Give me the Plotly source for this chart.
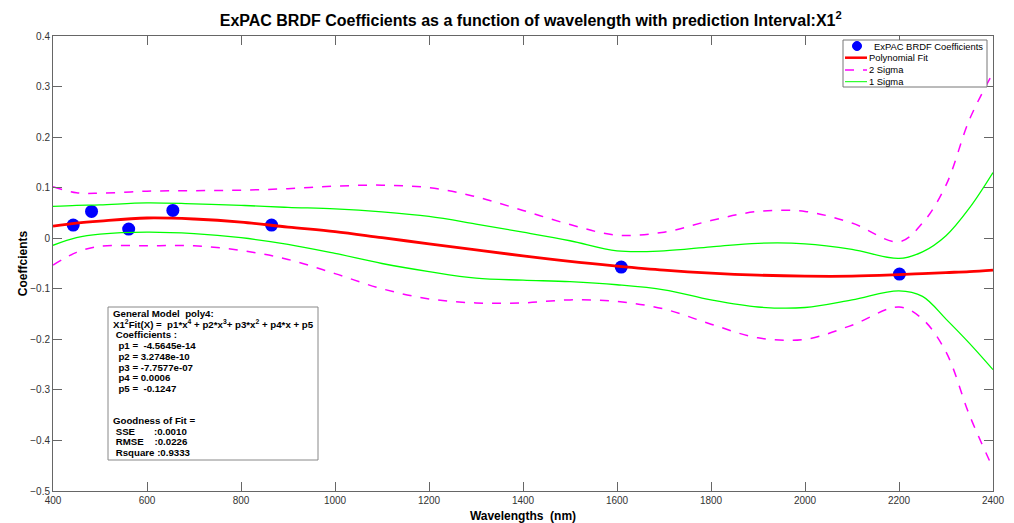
import plotly.graph_objects as go

# Measured data points (wavelength nm, coefficient)
pt_wl = [443, 482, 561, 655, 865, 1609, 2201]
pt_val = [0.026, 0.053, 0.018, 0.055, 0.026, -0.057, -0.071]

# Curves
wl = [400, 450, 500, 600, 700, 800, 900, 1000, 1100, 1200, 1300, 1400, 1500,
      1600, 1700, 1800, 1900, 2000, 2100, 2200, 2250, 2300, 2350, 2400]
fit = [0.024, 0.030, 0.034, 0.040, 0.038, 0.032, 0.022, 0.013, 0.001, -0.011, -0.023,
       -0.035, -0.046, -0.055, -0.063, -0.069, -0.073, -0.075, -0.075, -0.072,
       -0.070, -0.068, -0.066, -0.063]
sig1_up = [0.063, 0.065, 0.066, 0.070, 0.068, 0.065, 0.061, 0.058, 0.052, 0.043, 0.028,
           0.012, -0.005, -0.025, -0.025, -0.017, -0.010, -0.011, -0.022, -0.040,
           -0.027, 0.005, 0.060, 0.130]
sig1_lo = [-0.014, 0.001, 0.008, 0.012, 0.009, 0.001, -0.012, -0.030, -0.050, -0.066,
           -0.079, -0.083, -0.086, -0.092, -0.102, -0.122, -0.136, -0.137, -0.122,
           -0.104, -0.115, -0.160, -0.208, -0.260]
sig2_up = [0.102, 0.090, 0.089, 0.093, 0.094, 0.095, 0.098, 0.103, 0.105, 0.100, 0.082,
           0.055, 0.027, 0.006, 0.012, 0.035, 0.053, 0.053, 0.030, -0.007, 0.030,
           0.105, 0.235, 0.327]
sig2_lo = [-0.053, -0.028, -0.016, -0.015, -0.015, -0.024, -0.042, -0.070, -0.100,
           -0.120, -0.128, -0.128, -0.122, -0.125, -0.140, -0.170, -0.197, -0.200,
           -0.172, -0.136, -0.160, -0.225, -0.350, -0.455]

x_ticks = [400, 600, 800, 1000, 1200, 1400, 1600, 1800, 2000, 2200, 2400]
y_ticks = [0.4, 0.3, 0.2, 0.1, 0, -0.1, -0.2, -0.3, -0.4, -0.5]

legend_names = ["ExPAC BRDF Coefficients", "Polynomial Fit", "2 Sigma", "1 Sigma"]

box_lines = [
    "General Model  poly4:",
    "X1<sup>2</sup>Fit(X) =  p1*x<sup>4</sup> + p2*x<sup>3</sup>+ p3*x<sup>2</sup> + p4*x + p5",
    "\u00a0Coefficients :",
    "\u00a0\u00a0p1 =  -4.5645e-14",
    "\u00a0\u00a0p2 = 3.2748e-10",
    "\u00a0\u00a0p3 = -7.7577e-07",
    "\u00a0\u00a0p4 = 0.0006",
    "\u00a0\u00a0p5 =  -0.1247",
    "",
    "",
    "Goodness of Fit =",
    "\u00a0SSE\u00a0\u00a0\u00a0\u00a0\u00a0\u00a0\u00a0:0.0010",
    "\u00a0RMSE\u00a0\u00a0\u00a0\u00a0:0.0226",
    "\u00a0Rsquare :0.9333",
]

FONT = "Liberation Sans, Arial, sans-serif"
BLUE, RED, MAG, GRN = "#0000ff", "#ff0000", "#ff00ff", "#00ff00"

fig = go.Figure()
fig.add_trace(go.Scatter(x=pt_wl, y=pt_val, mode="markers", name=legend_names[0],
                         marker=dict(color=BLUE, size=13)))
fig.add_trace(go.Scatter(x=wl, y=fit, mode="lines", name=legend_names[1],
                         line=dict(color=RED, width=2.8, shape="spline")))
fig.add_trace(go.Scatter(x=wl, y=sig2_up, mode="lines", name=legend_names[2],
                         line=dict(color=MAG, width=1.5, dash="dash", shape="spline")))
fig.add_trace(go.Scatter(x=wl, y=sig2_lo, mode="lines", name=legend_names[2],
                         line=dict(color=MAG, width=1.5, dash="dash", shape="spline")))
fig.add_trace(go.Scatter(x=wl, y=sig1_up, mode="lines", name=legend_names[3],
                         line=dict(color=GRN, width=1.3, shape="spline")))
fig.add_trace(go.Scatter(x=wl, y=sig1_lo, mode="lines", name=legend_names[3],
                         line=dict(color=GRN, width=1.3, shape="spline")))

L, R, T, B = 53, 21, 36, 32
W, H = 1014, 523
pw, ph = W - L - R, H - T - B

def px(xp):
    return (xp - L) / pw

def py(yp):
    return 1 - (yp - T) / ph

shapes = []
annotations = []

# Fit-results text box
shapes.append(dict(type="rect", xref="paper", yref="paper",
                   x0=px(108), x1=px(318), y0=py(460), y1=py(307),
                   line=dict(color="#888888", width=1), fillcolor="white", layer="above"))
y0 = 313.5
for i, t in enumerate(box_lines):
    if not t:
        continue
    annotations.append(dict(text="<b>" + t + "</b>", xref="paper", yref="paper",
                            x=px(111), y=py(y0 + i * 10.7), xanchor="left", yanchor="middle",
                            showarrow=False, font=dict(family=FONT, size=9.7, color="black")))

# Legend box (drawn compactly, MATLAB style)
shapes.append(dict(type="rect", xref="paper", yref="paper",
                   x0=px(843), x1=px(987), y0=py(87), y1=py(40),
                   line=dict(color="#777777", width=1), fillcolor="white", layer="above"))
shapes.append(dict(type="circle", xref="paper", yref="paper",
                   x0=px(852.5), x1=px(861.5), y0=py(50.5), y1=py(41.5),
                   line=dict(color=BLUE, width=1), fillcolor=BLUE, layer="above"))
leg_rows = [(57.7, RED, 2.5, "solid"), (70, MAG, 1.5, "dash"), (81.7, GRN, 1, "solid")]
for yy, col, w, d in leg_rows:
    shapes.append(dict(type="line", xref="paper", yref="paper",
                       x0=px(845), x1=px(867), y0=py(yy), y1=py(yy),
                       line=dict(color=col, width=w, dash=d), layer="above"))
leg_text = [(872, 46), (867, 57.7), (867, 70), (867, 81.7)]
for (xx, yy), name in zip(leg_text, legend_names):
    annotations.append(dict(text=name, xref="paper", yref="paper", x=px(xx), y=py(yy),
                            xanchor="left", yanchor="middle", showarrow=False,
                            font=dict(family=FONT, size=9.4, color="black")))

fig.update_layout(
    width=W, height=H,
    margin=dict(l=L, r=R, t=T, b=B),
    paper_bgcolor="white", plot_bgcolor="white",
    title=dict(text="<b>ExPAC BRDF Coefficients as a function of wavelength with prediction Interval:X1<sup>2</sup></b>",
               x=px(545), xanchor="center", y=1 - 20 / H, yanchor="middle",
               font=dict(family=FONT, size=16, color="black")),
    showlegend=False,
    xaxis=dict(range=[400, 2400], tickvals=x_ticks, ticks="inside", ticklen=9,
               tickcolor="#666666", mirror="allticks", showline=True, linecolor="#666666",
               showgrid=False, zeroline=False, automargin=False,
               tickfont=dict(family=FONT, size=10, color="#333333"),
               title=dict(text="<b>Wavelengths  (nm)</b>", standoff=6,
                          font=dict(family=FONT, size=12, color="black"))),
    yaxis=dict(range=[-0.5, 0.4], tickvals=y_ticks, ticks="inside", ticklen=9,
               tickcolor="#666666", mirror="allticks", showline=True, linecolor="#666666",
               showgrid=False, zeroline=False, automargin=False,
               tickfont=dict(family=FONT, size=10, color="#333333"),
               title=dict(text="<b>Coeffcients</b>", standoff=0,
                          font=dict(family=FONT, size=12, color="black"))),
    shapes=shapes,
    annotations=annotations,
)

fig.write_html("out.html")
